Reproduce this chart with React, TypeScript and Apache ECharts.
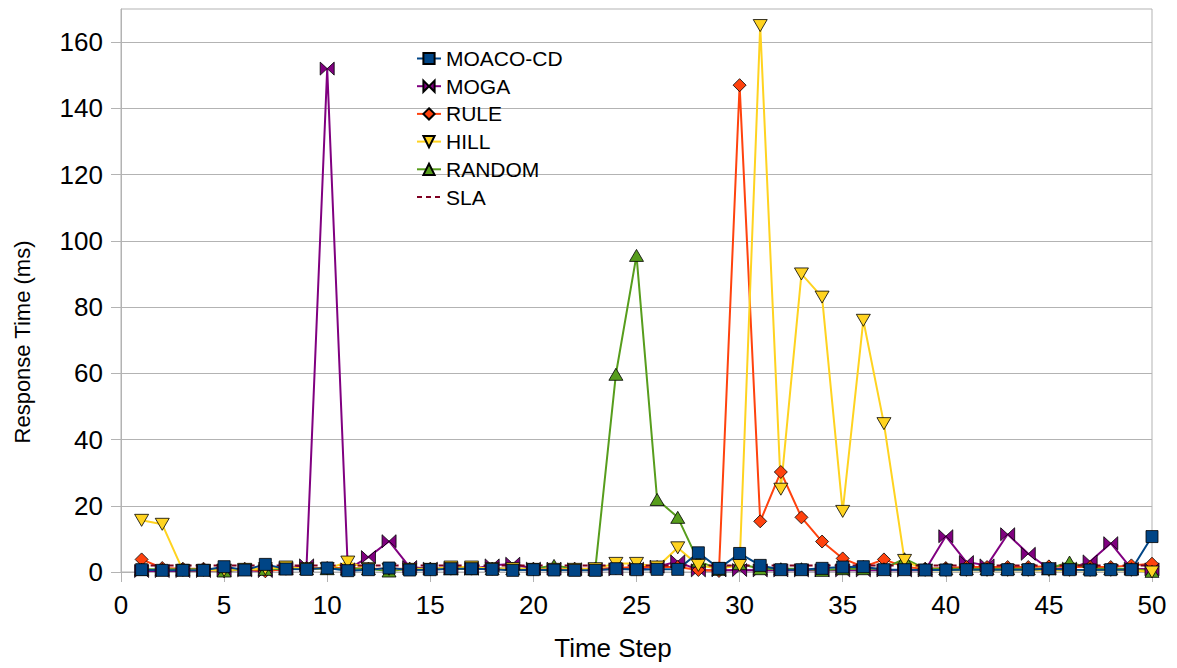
import React, { useEffect, useRef } from "react";
import * as echarts from "echarts";

const timeSteps = [
  1, 2, 3, 4, 5, 6, 7, 8, 9, 10, 11, 12, 13, 14, 15, 16, 17, 18, 19, 20,
  21, 22, 23, 24, 25, 26, 27, 28, 29, 30, 31, 32, 33, 34, 35, 36, 37, 38, 39, 40,
  41, 42, 43, 44, 45, 46, 47, 48, 49, 50,
];

const moacoCD = [
  0.7, 0.5, 0.5, 0.5, 1.6, 0.6, 2.3, 0.9, 0.8, 1.2,
  0.4, 0.7, 1.2, 0.6, 0.7, 1.0, 1.0, 0.8, 0.5, 0.7,
  0.6, 0.5, 0.5, 1.0, 0.7, 0.8, 0.8, 5.8, 1.1, 5.6,
  2.0, 0.7, 0.7, 1.1, 1.5, 1.6, 0.7, 0.7, 0.6, 0.6,
  0.7, 0.7, 0.7, 0.7, 1.0, 0.7, 0.6, 0.7, 0.7, 10.7,
];

const moga = [
  0.3, 0.3, 0.3, 0.3, 0.5, 0.5, 0.3, 1.0, 2.0, 152,
  0.8, 4.5, 9.3, 1.5, 1.0, 1.0, 1.0, 2.0, 2.5, 1.0,
  1.0, 0.8, 0.8, 0.8, 1.0, 1.6, 3.2, 0.5, 0.5, 0.6,
  0.5, 0.5, 0.5, 0.5, 0.5, 0.5, 0.5, 0.5, 0.5, 10.8,
  3.0, 2.0, 11.4, 5.5, 1.0, 1.0, 3.2, 8.7, 1.0, 0.8,
];

const rule = [
  3.8, 1.2, 1.0, 1.0, 0.2, 1.0, 0.2, 1.0, 1.2, 1.2,
  1.2, 1.0, 1.0, 1.0, 1.0, 1.0, 1.0, 1.0, 1.0, 1.0,
  1.0, 1.0, 1.0, 1.2, 1.5, 1.5, 1.5, 0.6, 0.3, 147,
  15.3, 30.2, 16.5, 9.2, 4.1, 1.5, 3.8, 1.5, 1.0, 1.2,
  1.5, 1.5, 1.5, 1.5, 1.7, 1.5, 1.5, 1.5, 2.0, 2.5,
];

const hill = [
  15.6, 14.4, 0.5, 0.5, 0.5, 0.8, 1.0, 1.5, 1.0, 1.0,
  3.0, 1.0, 0.8, 0.8, 0.8, 1.5, 1.5, 1.0, 1.0, 0.8,
  0.8, 0.8, 1.0, 2.6, 2.6, 1.5, 7.3, 2.0, 1.0, 2.0,
  165, 25, 90, 83, 18.3, 76, 44.8, 3.5, 0.5, 0.5,
  0.5, 0.5, 0.5, 0.5, 0.5, 0.5, 0.5, 0.5, 0.5, 0.0,
];

const random = [
  0.8, 0.8, 0.8, 0.8, 0.3, 0.8, 0.8, 1.0, 1.0, 1.0,
  1.0, 1.0, 0.3, 1.0, 1.0, 1.0, 1.0, 1.0, 1.0, 1.0,
  2.0, 1.0, 0.8, 59.7, 95.6, 21.9, 16.5, 3.3, 0.8, 2.5,
  1.0, 1.0, 1.0, 0.5, 1.0, 1.0, 1.0, 4.0, 1.0, 1.0,
  1.0, 1.0, 1.0, 1.0, 1.0, 3.0, 1.0, 1.0, 1.0, 0.2,
];

const sla = [
  2, 2, 2, 2, 2, 2, 2, 2, 2, 2,
  2, 2, 2, 2, 2, 2, 2, 2, 2, 2,
  2, 2, 2, 2, 2, 2, 2, 2, 2, 2,
  2, 2, 2, 2, 2, 2, 2, 2, 2, 2,
  2, 2, 2, 2, 2, 2, 2, 2, 2, 2,
];

const legendOrder = ["MOACO-CD", "MOGA", "RULE", "HILL", "RANDOM", "SLA"];
const yTicks = [0, 20, 40, 60, 80, 100, 120, 140, 160];

const FONT = "'Liberation Sans', Arial, sans-serif";
const GRID_COLOR = "#b3b3b3";
const BOWTIE = "path://M0,0L10,6L0,12ZM20,0L10,6L20,12Z";

export default function App() {
  const ref = useRef<HTMLDivElement>(null);

  useEffect(() => {
    if (!ref.current) return;
    const chart = echarts.init(ref.current, null, { renderer: "svg" });
    const pairs = (vals: number[]) => timeSteps.map((t, i) => [t, vals[i]]);

    const mk = (
      name: string,
      color: string,
      vals: number[],
      symbol: string,
      size: number | number[],
      rotate = 0
    ) => ({
      name,
      type: "line",
      data: pairs(vals),
      symbol,
      symbolSize: size,
      symbolRotate: rotate,
      showSymbol: true,
      showAllSymbol: true,
      lineStyle: { color, width: 2 },
      itemStyle: { color, borderColor: "#000", borderWidth: 0.8 },
      emphasis: { disabled: true },
    });

    chart.setOption({
      animation: false,
      backgroundColor: "#fff",
      textStyle: { fontFamily: FONT },
      grid: {
        left: 121,
        right: 25,
        top: 9,
        bottom: 96,
        show: true,
        borderColor: GRID_COLOR,
        borderWidth: 1,
        containLabel: false,
      },
      legend: {
        data: legendOrder.map((name) =>
          name === "SLA"
            ? { name, itemStyle: { opacity: 0, borderWidth: 0 } }
            : { name }
        ),
        orient: "vertical",
        left: 416,
        top: 48,
        padding: 0,
        itemWidth: 24,
        itemHeight: 14,
        itemGap: 6.7,
        textStyle: { fontFamily: FONT, fontSize: 21, color: "#000", lineHeight: 21 },
        selectedMode: false,
      },
      xAxis: {
        type: "value",
        min: 0,
        max: 50,
        interval: 5,
        axisLine: { show: true, lineStyle: { color: GRID_COLOR } },
        axisTick: { show: true, length: 10, lineStyle: { color: GRID_COLOR } },
        splitLine: { show: false },
        axisLabel: { fontFamily: FONT, fontSize: 26, color: "#000", margin: 20 },
      },
      yAxis: {
        type: "value",
        min: 0,
        max: 170,
        interval: 20,
        axisLine: { show: true, lineStyle: { color: GRID_COLOR } },
        axisTick: {
          show: true,
          length: 10,
          lineStyle: { color: GRID_COLOR },
          customValues: yTicks,
        },
        splitLine: { show: true, lineStyle: { color: GRID_COLOR, width: 1 } },
        axisLabel: {
          fontFamily: FONT,
          fontSize: 26,
          color: "#000",
          margin: 18,
          customValues: yTicks,
        },
      },
      graphic: [
        {
          type: "text",
          x: 22,
          y: 342,
          rotation: Math.PI / 2,
          style: {
            text: "Response Time (ms)",
            font: `22px ${FONT}`,
            fill: "#000",
            align: "center",
            verticalAlign: "middle",
          },
        },
        {
          type: "text",
          x: 613,
          y: 648,
          style: {
            text: "Time Step",
            font: `26px ${FONT}`,
            fill: "#000",
            align: "center",
            verticalAlign: "middle",
          },
        },
      ],
      series: [
        mk("MOGA", "#800080", moga, BOWTIE, [14, 13]),
        mk("RULE", "#ff420e", rule, "diamond", 13),
        mk("RANDOM", "#579d1c", random, "triangle", [14, 12]),
        mk("HILL", "#ffd320", hill, "triangle", [14, 12], 180),
        {
          name: "SLA",
          type: "line",
          data: pairs(sla),
          symbol: "none",
          lineStyle: { color: "#7e0021", width: 2, type: [5, 4] },
          itemStyle: { color: "#7e0021" },
          emphasis: { disabled: true },
        },
        mk("MOACO-CD", "#004586", moacoCD, "rect", 12),
      ],
    });

    return () => chart.dispose();
  }, []);

  return (
    <div
      ref={ref}
      style={{ position: "absolute", left: 0, top: 0, width: 1177, height: 668 }}
    />
  );
}
